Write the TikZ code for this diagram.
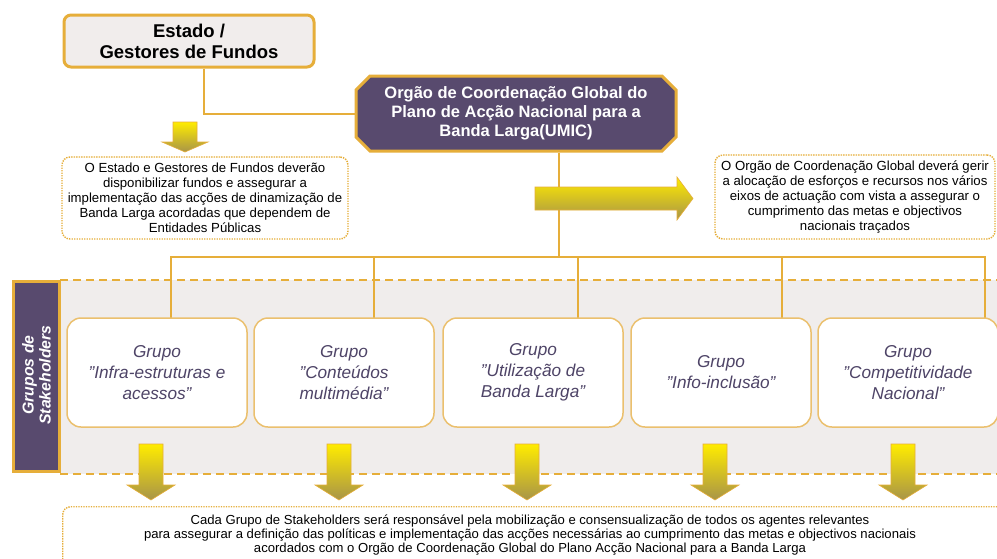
\documentclass[tikz,border=0pt]{standalone}
\usepackage{fontspec}
\setmainfont{Liberation Sans}
\usetikzlibrary{shapes.misc}
\definecolor{orng}{HTML}{E6AE3A}
\definecolor{orngl}{HTML}{EBC06E}
\definecolor{purp}{HTML}{584A6E}
\definecolor{bandc}{HTML}{F0EDEC}
\definecolor{boxg}{HTML}{F1EDEC}
\definecolor{gtext}{HTML}{4E4467}
\definecolor{yA}{HTML}{FFEC00}
\definecolor{yB}{HTML}{A89448}
\newcommand{\qd}{\symbol{34}}
\newcommand{\ydarrow}[5]{% cx, ytop, ybody, ytip, head half width
  \shadedraw[yarrow] (#1-12,#2) -- (#1+12,#2) -- (#1+12,#3) -- (#1+#5,#3) -- (#1,#4) -- (#1-#5,#3) -- (#1-12,#3) -- cycle;}
\tikzset{
  conn/.style={draw=orng, line width=2pt},
  estadobox/.style={draw=orng, line width=3pt, fill=boxg, rounded corners=7pt, minimum width=250pt, minimum height=52pt, inner sep=0pt, align=center, font=\bfseries\fontsize{18.5}{21}\selectfont},
  umicbox/.style={chamfered rectangle, chamfered rectangle xsep=7pt, chamfered rectangle ysep=7pt, draw=orng, line width=3pt, fill=purp, text=white, minimum width=320pt, minimum height=75pt, inner sep=0pt, align=center, font=\bfseries\fontsize{16.5}{19}\selectfont},
  note/.style={draw=orng, line width=1.4pt, dash pattern=on 1.4pt off 1.1pt, rounded corners=8pt, fill=white, inner sep=0pt, align=center, font=\fontsize{13.2}{15}\selectfont},
  dashline/.style={draw=orng, line width=2.5pt, dash pattern=on 8pt off 5pt},
  stakebox/.style={draw=orng, line width=3pt, fill=purp, minimum width=46pt, minimum height=190pt, inner sep=0pt},
  grp/.style={draw=orngl, line width=1.5pt, fill=white, rounded corners=14pt, minimum width=180pt, minimum height=109pt, inner sep=0pt, text=gtext, align=center, font=\itshape\fontsize{17.2}{21}\selectfont},
  yarrow/.style={draw=orng, line width=0.6pt, top color=yA, bottom color=yB},
}
\begin{document}
\begin{tikzpicture}[x=1pt,y=-1pt]
\useasboundingbox (0,0) rectangle (997,558);
\clip (0,0) rectangle (997,558);
\fill[white] (0,0) rectangle (997,558);

% band
\fill[bandc] (60,280) rectangle (997,474);
\draw[dashline] (60,280) -- (997,280);
\draw[dashline] (60,474) -- (997,474);
\node[stakebox] (stake) at (36,376) {};
\node[rotate=90, text=white, align=center, font=\bfseries\itshape\fontsize{15.8}{17}\selectfont] (stakelbl) at (36.5,375) {Grupos de\\Stakeholders};

% top boxes
\node[estadobox] (estado) at (189,41) {Estado /\\Gestores de Fundos};
\node[umicbox] (umic) at (516,113.5) {Orgão de Coordenação Global do\\Plano de Acção Nacional para a\\Banda Larga(UMIC)};

\coordinate (eb) at (204,0);
\coordinate (bus) at (559,257);
\coordinate (c1) at (171,0);
\coordinate (c2) at (374,0);
\coordinate (c3) at (578,0);
\coordinate (c4) at (782,0);
\coordinate (c5) at (985,0);

% notes
\node[note, minimum width=286pt, minimum height=82pt] (lnote) at (205,198) {O Estado e Gestores de Fundos deverão\\disponibilizar fundos e assegurar a\\implementação das acções de dinamização de\\Banda Larga acordadas que dependem de\\Entidades Públicas};
\node[note, minimum width=280pt, minimum height=84pt] (rnote) at (855,197) {O Orgão de Coordenação Global deverá gerir\\a alocação de esforços e recursos nos vários\\eixos de actuação com vista a assegurar o\\cumprimento das metas e objectivos\\nacionais traçados};

% connectors
\draw[conn] (estado.south -| eb) |- (umic.west);
\draw[conn] (umic.south -| bus) -- (bus) -| (c1 |- 0,318);
\draw[conn] (bus) -| (c5 |- 0,318);
\draw[conn] (c2 |- bus) -- (c2 |- 0,318);
\draw[conn] (c3 |- bus) -- (c3 |- 0,318);
\draw[conn] (c4 |- bus) -- (c4 |- 0,318);

% groups
\node[grp] (g1) at (157,372.5) {Grupo\\\qd Infra-estruturas e\\acessos\qd};
\node[grp] (g2) at (344,372.5) {Grupo\\\qd Conteúdos\\multimédia\qd};
\node[grp] (g3) at (533,372.5) {Grupo\\\qd Utilização de\\Banda Larga\qd};
\node[grp] (g4) at (721,372.5) {Grupo\\\qd Info-inclusão\qd};
\node[grp] (g5) at (908,372.5) {Grupo\\\qd Competitividade\\Nacional\qd};

% arrows
\ydarrow{185}{122}{142}{152}{23}
\shadedraw[yarrow] (535,187) -- (677,187) -- (677,177) -- (693,198.5) -- (677,220) -- (677,210) -- (535,210) -- cycle;
\ydarrow{151}{444}{485}{500}{24}
\ydarrow{339}{444}{485}{500}{24}
\ydarrow{527}{444}{485}{500}{24}
\ydarrow{715}{444}{485}{500}{24}
\ydarrow{903}{444}{485}{500}{24}

% bottom note
\node[note, anchor=north west, minimum width=960pt, minimum height=90pt] (bnote) at (62,506) {};
\node[align=center, inner sep=0pt, font=\fontsize{13.1}{14}\selectfont] (btext) at (530,535) {Cada Grupo de Stakeholders será responsável pela mobilização e consensualização de todos os agentes relevantes\\para assegurar a definição das políticas e implementação das acções necessárias ao cumprimento das metas e objectivos nacionais\\acordados com o Orgão de Coordenação Global do Plano Acção Nacional para a Banda Larga};
\end{tikzpicture}
\end{document}
